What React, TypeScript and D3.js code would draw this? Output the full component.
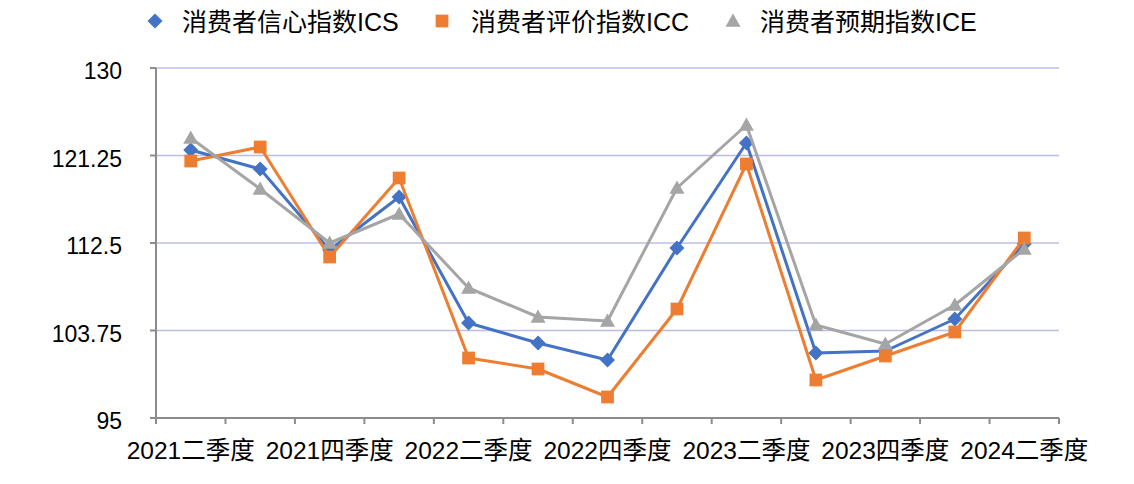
import React from "react";
import * as d3 from "d3";

const categories = [
  "2021二季度", "2021三季度", "2021四季度", "2022一季度", "2022二季度", "2022三季度",
  "2022四季度", "2023一季度", "2023二季度", "2023三季度", "2023四季度", "2024一季度", "2024二季度",
];
const shownLabels = ["2021二季度", "2021四季度", "2022二季度", "2022四季度", "2023二季度", "2023四季度", "2024二季度"];
const icsValues = [121.8, 119.9, 111.8, 117.1, 104.5, 102.5, 100.8, 112.0, 122.5, 101.5, 101.7, 104.9, 112.4];
const iccValues = [120.7, 122.1, 111.1, 119.0, 101.0, 99.9, 97.1, 105.9, 120.4, 98.8, 101.2, 103.6, 113.0];
const iceValues = [123.0, 117.9, 112.5, 115.4, 108.0, 105.1, 104.7, 118.0, 124.3, 104.3, 102.4, 106.3, 111.9];
const yTicks = [95, 103.75, 112.5, 121.25, 130];
const seriesNames = ["消费者信心指数ICS", "消费者评价指数ICC", "消费者预期指数ICE"];

const FONT = '"Liberation Sans", "Noto Sans CJK SC", sans-serif';

const series = [
  { name: seriesNames[0], values: icsValues, color: "#4472C4", marker: "diamond" },
  { name: seriesNames[1], values: iccValues, color: "#ED7D31", marker: "square" },
  { name: seriesNames[2], values: iceValues, color: "#A5A5A5", marker: "triangle" },
];

function markerPath(kind: string, s: number) {
  if (kind === "diamond") return `M0,${-s} L${s},0 L0,${s} L${-s},0 Z`;
  if (kind === "square") return `M${-s * 0.85},${-s * 0.85} H${s * 0.85} V${s * 0.85} H${-s * 0.85} Z`;
  return `M0,${-s} L${s},${s * 0.75} L${-s},${s * 0.75} Z`;
}

export default function App() {
  const width = 1134;
  const height = 484;
  const left = 156;
  const right = 1059;
  const top = 68;
  const bottom = 418;

  const x = d3.scaleBand<string>().domain(categories).range([left, right]).paddingInner(0).paddingOuter(0);
  const y = d3.scaleLinear().domain([95, 130]).range([bottom, top]);
  const cx = (c: string) => (x(c) as number) + x.bandwidth() / 2;

  const line = d3
    .line<number>()
    .x((_, i) => cx(categories[i]))
    .y((v) => y(v));

  const boundaries = d3.range(categories.length + 1).map((i) => left + i * x.step());

  const legendItems = [
    { mx: 155, tx: 182 },
    { mx: 442, tx: 471 },
    { mx: 733, tx: 760 },
  ];

  return (
    <div style={{ position: "fixed", left: 0, top: 0 }}>
      <svg width={width} height={height} style={{ display: "block", background: "#fff" }}>
        {/* gridlines */}
        {yTicks.filter((t) => t !== 95).map((t) => (
          <line key={t} x1={left} x2={right} y1={y(t)} y2={y(t)} stroke="#BCBCE6" strokeWidth={1.6} />
        ))}
        {/* y axis */}
        <line x1={left} x2={left} y1={top} y2={bottom} stroke="#8C8C8C" strokeWidth={2} />
        {yTicks.map((t) => (
          <g key={t}>
            <line x1={left - 6} x2={left} y1={y(t)} y2={y(t)} stroke="#8C8C8C" strokeWidth={2} />
            <text x={122} y={y(t) + 11} textAnchor="end" fontFamily={FONT} fontSize={23} fill="#000">
              {String(t)}
            </text>
          </g>
        ))}
        {/* x axis */}
        <line x1={left} x2={right} y1={bottom} y2={bottom} stroke="#8C8C8C" strokeWidth={2} />
        {boundaries.map((b, i) => (
          <line key={i} x1={b} x2={b} y1={bottom} y2={bottom + 6} stroke="#8C8C8C" strokeWidth={2} />
        ))}
        {shownLabels.map((c) => (
          <text key={c} x={cx(c)} y={459} textAnchor="middle" fontFamily={FONT} fontSize={24.5} fill="#000">
            {c}
          </text>
        ))}
        {/* series */}
        {series.map((s) => (
          <g key={s.name}>
            <path d={line(s.values) || ""} fill="none" stroke={s.color} strokeWidth={3} strokeLinejoin="round" />
            {s.values.map((v, i) => (
              <path
                key={i}
                d={markerPath(s.marker, 7.5)}
                transform={`translate(${cx(categories[i])},${y(v)})`}
                fill={s.color}
              />
            ))}
          </g>
        ))}
        {/* legend */}
        {series.map((s, i) => (
          <g key={s.name}>
            <path d={markerPath(s.marker, 7.5)} transform={`translate(${legendItems[i].mx},21)`} fill={s.color} />
            <text x={legendItems[i].tx} y={31} fontFamily={FONT} fontSize={25} fill="#000">
              {s.name}
            </text>
          </g>
        ))}
      </svg>
    </div>
  );
}
